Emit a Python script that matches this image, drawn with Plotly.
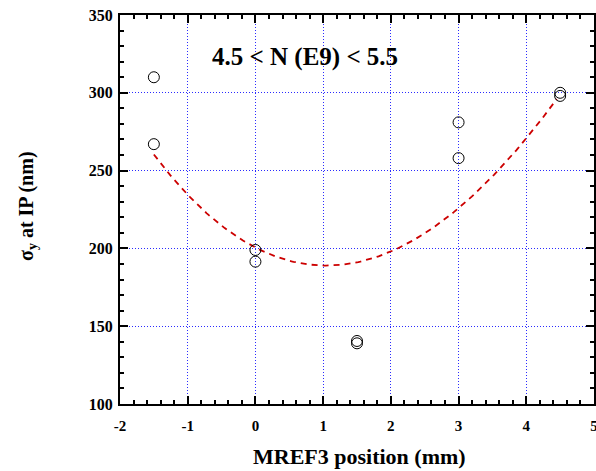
import numpy as np
import plotly.graph_objects as go

# measured points
x_pos = [-1.5, -1.5, 0.0, 0.0, 1.5, 1.5, 3.0, 3.0, 4.5, 4.5]
sigma_y = [310, 267, 199, 191.5, 140.5, 139, 281, 258, 300, 298]

# points read along the fitted (dashed) curve
fit_x = [-1.5, -1.0, 0.0, 1.1, 2.0, 3.0, 3.565, 4.0, 4.45]
fit_y = [258.4, 237.3, 201.0, 186.9, 197.6, 227.0, 250.0, 270.6, 295.3]

x_ticks = [-2, -1, 0, 1, 2, 3, 4, 5]
x_labels = ["-2", "-1", "0", "1", "2", "3", "4", "5"]
y_ticks = [100, 150, 200, 250, 300, 350]
y_labels = ["100", "150", "200", "250", "300", "350"]

coef = np.polyfit(fit_x, fit_y, 3)
xs = np.linspace(min(fit_x), max(fit_x), 200)
ys = np.polyval(coef, xs)

FONT = "Liberation Serif"
GRID = "#2b2bff"

W, H = 596, 471
L, T, R, B = 120, 15, 2, 67
pw, ph = W - L - R, H - T - B

fig = go.Figure()
fig.add_trace(go.Scatter(x=xs, y=ys, mode="lines",
                         line=dict(color="#cc0000", width=1.8, dash="6px,5px"),
                         hoverinfo="skip", showlegend=False))
fig.add_trace(go.Scatter(x=x_pos, y=sigma_y, mode="markers",
                         marker=dict(symbol="circle-open", size=11,
                                     color="black", line=dict(width=1)),
                         showlegend=False))

fig.update_layout(
    width=W, height=H,
    margin=dict(l=L, r=R, t=T, b=B, autoexpand=False),
    paper_bgcolor="white", plot_bgcolor="white",
    font=dict(family=FONT, color="black"),
    xaxis=dict(range=[-2, 5], tickvals=x_ticks,
               ticktext=["<b>%s</b>" % t for t in x_labels],
               ticks="inside", ticklen=8, automargin=False,
               ticklabeloverflow="allow", ticklabelstandoff=7,
               tickwidth=2, tickcolor="black", showline=True, linecolor="black",
               linewidth=2, mirror="ticks",
               showgrid=True, gridcolor=GRID, griddash="1px,2px", gridwidth=1,
               minor=dict(dtick=0.2, ticks="inside", ticklen=4, tickwidth=1.5,
                          tickcolor="black", showgrid=False),
               tickfont=dict(family=FONT, size=15, color="black"),
               zeroline=False, fixedrange=True),
    yaxis=dict(range=[100, 350], tickvals=y_ticks,
               ticktext=["<b>%s</b>" % t for t in y_labels],
               ticks="inside", ticklen=8, automargin=False,
               ticklabeloverflow="allow", ticklabelstandoff=2,
               tickwidth=2, tickcolor="black", showline=True, linecolor="black",
               linewidth=2, mirror="ticks",
               showgrid=True, gridcolor=GRID, griddash="1px,2px", gridwidth=1,
               minor=dict(dtick=10, ticks="inside", ticklen=4, tickwidth=1.5,
                          tickcolor="black", showgrid=False),
               tickfont=dict(family=FONT, size=16, color="black"),
               zeroline=False, fixedrange=True),
    annotations=[
        dict(text="<b>4.5 &lt; N (E9) &lt; 5.5</b>", xref="paper", yref="paper",
             x=(305 - L) / pw, y=(404 - 57) / ph, showarrow=False,
             xanchor="center", yanchor="middle",
             font=dict(family=FONT, size=25, color="black")),
        dict(text="<b>MREF3 position (mm)</b>", xref="paper", yref="paper",
             x=(359 - L) / pw, y=(404 - 456) / ph, showarrow=False,
             xanchor="center", yanchor="middle",
             font=dict(family=FONT, size=22, color="black")),
        dict(text="<b>σ<sub>y</sub> at IP (nm)</b>", xref="paper", yref="paper",
             x=(27 - L) / pw, y=(404 - 206) / ph, showarrow=False, textangle=-90,
             xanchor="center", yanchor="middle",
             font=dict(family=FONT, size=20, color="black")),
    ],
)

fig.write_html("out.html",
               config={"displayModeBar": False},
               post_script="document.body.style.margin='0';document.body.style.overflow='hidden';")
